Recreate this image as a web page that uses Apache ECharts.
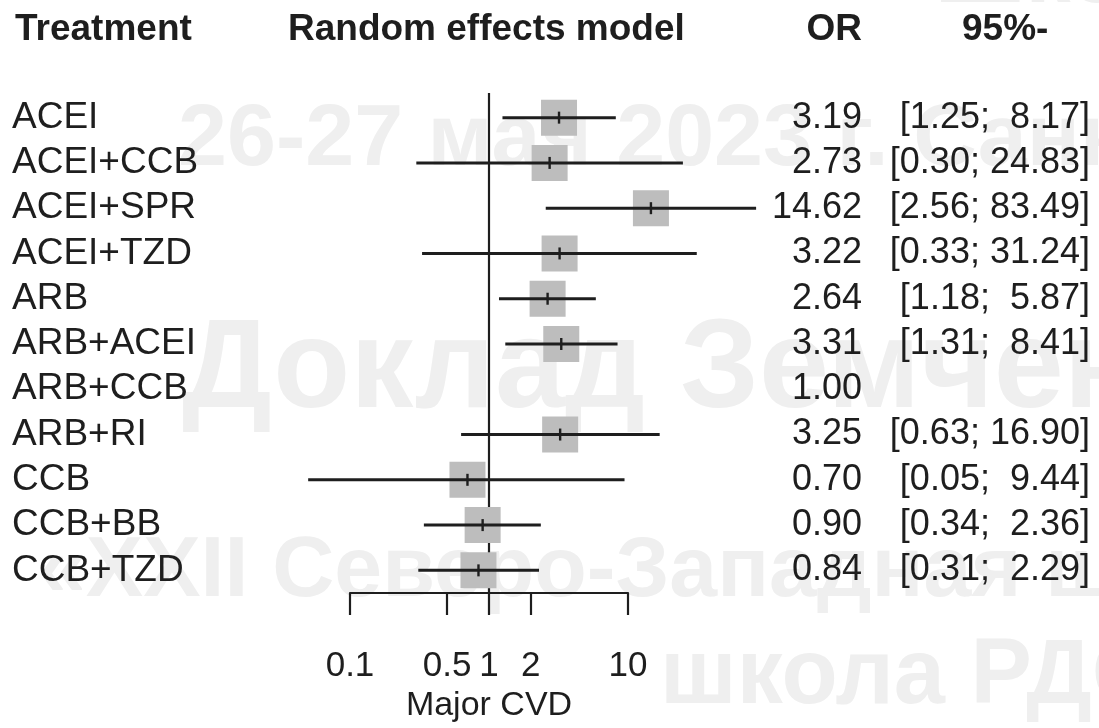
<!DOCTYPE html>
<html>
<head>
<meta charset="utf-8">
<title>Major CVD – Random effects model</title>
<script src="https://cdn.jsdelivr.net/npm/echarts@6/dist/echarts.min.js"></script>
<style>
  html, body { margin: 0; padding: 0; background: #ffffff; }
  #chart { width: 1099px; height: 728px; }
</style>
</head>
<body>
<div id="chart"></div>
<script>
// Treatments compared against ARB+CCB (reference, OR = 1)
const treatments = ['ACEI', 'ACEI+CCB', 'ACEI+SPR', 'ACEI+TZD', 'ARB', 'ARB+ACEI',
                    'ARB+CCB', 'ARB+RI', 'CCB', 'CCB+BB', 'CCB+TZD'];
const oddsRatios = [3.19, 2.73, 14.62, 3.22, 2.64, 3.31, 1.00, 3.25, 0.70, 0.90, 0.84];
const ciLower    = [1.25, 0.30, 2.56, 0.33, 1.18, 1.31, null, 0.63, 0.05, 0.34, 0.31];
const ciUpper    = [8.17, 24.83, 83.49, 31.24, 5.87, 8.41, null, 16.90, 9.44, 2.36, 2.29];
const axisTicks  = [0.1, 0.5, 1, 2, 10];

const FONT = "'Liberation Sans', Arial, Helvetica, sans-serif";
const INK = '#1e1e1e';
const MARK = '#bdbdbd';
const WM = '#efefef';

function fmt(v) { return v.toFixed(2); }
function ciText(i) {
  if (ciLower[i] == null) return '';
  let hi = fmt(ciUpper[i]);
  while (hi.length < 5) hi = ' ' + hi;
  return '[' + fmt(ciLower[i]) + '; ' + hi + ']';
}

const rows = treatments.map((t, i) => [oddsRatios[i], t, ciLower[i], ciUpper[i], i]);

const chart = echarts.init(document.getElementById('chart'), null, { renderer: 'canvas' });

const option = {
  backgroundColor: '#ffffff',
  animation: false,
  textStyle: { fontFamily: FONT },
  grid: { left: 350, right: 471, top: 95, bottom: 135, containLabel: false },
  xAxis: {
    type: 'log',
    logBase: 10,
    min: 0.1,
    max: 10,
    axisLine: { show: true, lineStyle: { color: INK, width: 2.2 } },
    axisTick: { show: true, customValues: axisTicks, length: 22, lineStyle: { color: INK, width: 2.2 } },
    axisLabel: {
      show: true, customValues: axisTicks, margin: 56,
      fontSize: 35, color: INK, fontFamily: FONT,
      formatter: v => String(v)
    },
    splitLine: { show: false },
    minorTick: { show: false },
    name: 'Major CVD',
    nameLocation: 'middle',
    nameGap: 94,
    nameTextStyle: { fontSize: 34, color: INK, fontFamily: FONT }
  },
  yAxis: {
    type: 'category',
    inverse: true,
    data: treatments,
    axisLine: { show: false },
    axisTick: { show: false },
    splitLine: { show: false },
    axisLabel: { interval: 0, align: 'left', margin: 338, fontSize: 37, color: INK, fontFamily: FONT }
  },
  graphic: [
    // faint background lettering
    { type: 'text', silent: true, z: -10, style: { text: 'Школа РДО', x: 935, y: 22, textVerticalAlign: 'bottom', fill: WM, font: 'bold 90px ' + FONT } },
    { type: 'text', silent: true, z: -10, style: { text: '26-27 мая 2023 г. Санкт-Петербург', x: 178, y: 141, textVerticalAlign: 'middle', fill: WM, font: 'bold 88px ' + FONT } },
    { type: 'text', silent: true, z: -10, style: { text: 'Доклад Земченкова', x: 182, y: 372, textVerticalAlign: 'middle', fill: WM, font: 'bold 126px ' + FONT } },
    { type: 'text', silent: true, z: -10, style: { text: '«XXII Северо-Западная школа', x: 38, y: 572, textVerticalAlign: 'middle', fill: WM, font: 'bold 86px ' + FONT } },
    { type: 'text', silent: true, z: -10, style: { text: 'школа РДО»', x: 660, y: 678, textVerticalAlign: 'middle', fill: WM, font: 'bold 92px ' + FONT } },
    // column headers
    { type: 'text', style: { text: 'Treatment', x: 15, y: 30, textVerticalAlign: 'middle', fill: INK, font: 'bold 37px ' + FONT } },
    { type: 'text', style: { text: 'Random effects model', x: 288, y: 30, textVerticalAlign: 'middle', fill: INK, font: 'bold 37px ' + FONT } },
    { type: 'text', style: { text: 'OR', x: 862, y: 30, textAlign: 'right', textVerticalAlign: 'middle', fill: INK, font: 'bold 37px ' + FONT } },
    { type: 'text', style: { text: '95%-', x: 962, y: 30, textVerticalAlign: 'middle', fill: INK, font: 'bold 37px ' + FONT } }
  ],
  series: [
    {
      // line of no effect at OR = 1
      type: 'custom',
      clip: false,
      z: 3,
      data: [[1]],
      renderItem: function (params, api) {
        const cs = params.coordSys;
        const x = api.coord([1, treatments[0]])[0];
        return {
          type: 'line',
          shape: { x1: x, y1: cs.y - 2, x2: x, y2: cs.y + cs.height },
          style: { stroke: INK, lineWidth: 2.2 }
        };
      }
    },
    {
      // squares, confidence intervals and the OR / CI columns
      type: 'custom',
      clip: false,
      z: 4,
      data: rows,
      encode: { x: 0, y: 1 },
      renderItem: function (params, api) {
        const i = api.value(4);
        const or = api.value(0);
        const c = api.coord([or, treatments[i]]);
        const children = [];
        if (ciLower[i] != null) {
          const lo = api.coord([ciLower[i], treatments[i]]);
          const hi = api.coord([ciUpper[i], treatments[i]]);
          const s = 36;
          children.push({ type: 'rect', shape: { x: c[0] - s / 2, y: c[1] - s / 2, width: s, height: s }, style: { fill: MARK } });
          children.push({ type: 'line', shape: { x1: lo[0], y1: c[1], x2: hi[0], y2: c[1] }, style: { stroke: INK, lineWidth: 3 } });
          children.push({ type: 'line', shape: { x1: c[0], y1: c[1] - 6, x2: c[0], y2: c[1] + 6 }, style: { stroke: INK, lineWidth: 2.4 } });
        }
        children.push({ type: 'text', style: { text: fmt(or), x: 862, y: c[1], textAlign: 'right', textVerticalAlign: 'middle', fill: INK, font: '36px ' + FONT } });
        children.push({ type: 'text', style: { text: ciText(i), x: 1090, y: c[1], textAlign: 'right', textVerticalAlign: 'middle', fill: INK, font: '36px ' + FONT } });
        return { type: 'group', children: children };
      }
    }
  ]
};

chart.setOption(option);
</script>
</body>
</html>
